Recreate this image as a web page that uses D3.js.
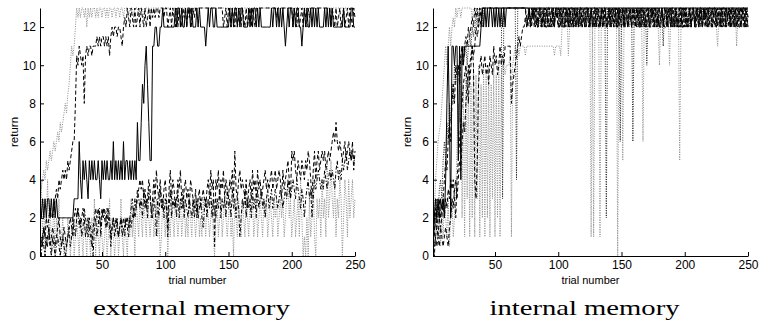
<!DOCTYPE html>
<html><head><meta charset="utf-8">
<script src="https://cdn.jsdelivr.net/npm/d3@7"></script>
<style>body{margin:0;background:#fff}svg{display:block}</style>
</head><body><svg id="c" width="759" height="327"></svg>
<script>
const yTicks=[0,2,4,6,8,10,12];
const xTicks=[50,100,150,200,250];
const titles=["external memory","internal memory"];

const extSolid=[
3,2,3,2,3,2,3,3,2,3,
2,3,2,3,2,2,2,2,2,2,
2,2,2,2,2,2,2,3,3,3,
3,6,4,3,5,4,5,4,3,5,
4,5,4,5,4,4,5,4,3,5,
4,5,4,5,4,4,5,4,6,4,
5,4,5,4,5,4,6,4,5,5,
4,5,4,5,4,5,4,7,5,5,
7,9,8,10,11,9,7,5,5,11,
11,12,12,11,11,12,12,13,12,12,
12,12,12,12,12,12,12,13,12,13,
13,12,13,12,12,13,12,13,13,12,
13,12,12,12,13,12,13,12,12,12,
12,11,12,13,12,13,13,12,12,13,
12,12,12,12,12,12,12,12,12,12,
13,12,13,12,13,13,12,13,12,13,
13,12,12,12,12,13,12,13,12,13,
13,12,13,12,13,12,12,12,12,12,
12,12,12,13,12,13,13,12,13,12,
13,12,13,12,11,12,13,12,13,13,
12,13,12,13,13,12,12,11,12,13,
12,13,12,12,13,12,13,12,13,12,
13,12,12,12,12,13,12,13,12,13,
12,13,12,12,12,12,12,12,12,12,
13,12,12,12,12,12,13,13,12,12];

const extDash1=[
1,0.5,1,1.5,1,2,1.5,2,2.5,2,
2,2.5,3,3.5,3,4,3.5,4,4.5,4,
4.5,4,5,4.5,5,5.5,6,6,8,10.5,
10,11,10.5,10,10.5,8,10.5,11,10.5,11,
11,10.5,11,11,11,11.5,11,11.5,11,11.5,
11.5,11,11.5,11,11.5,10.5,11.5,12,11.5,12,
12,11.5,12,12,11.5,11,12,12.5,12,13,
12.5,12,13,12.5,12,13,12,12.5,13,12,
13,12.5,12,13,12,12.5,13,12,13,12.5,
13,12.5,13,13,12.5,13,13,13,12.5,13,
13,12,12.5,13,12,13,12.5,12,13,12,
13,12.5,12,13,12.5,13,12,13,12.5,13,
12,13,12.5,13,13,13,13,13,13,13,
13,13,13,13,13,13,13,13,13,13,
13,13,13,13,13,12,12.5,13,12,13,
12.5,12,13,12.5,12,13,12,12.5,13,12,
13,12.5,12,13,12,12.5,13,12,13,12.5,
12,13,13,13,13,13,13,13,13,13,
13,13,13,13,13,13,13,12.5,13,13,
13,13,13,13,13,13,13,13,13,13,
12,13,12.5,12,13,12,12.5,13,12,13,
12.5,12,13,12.5,13,13,13,13,13,13,
13,13,13,13,13,13,13,13,13,13,
12,13,12.5,12,13,12,12.5,13,12,12.5,
13,12,12.5,13,12,13,12.5,12,13,12.5];

const extDotA=[
4,3.5,4,4.5,4,5,4.5,5,5.5,5,
5.5,6,5.5,6,6.5,6,7,6.5,7,7.5,
8,7.5,8.5,9,10,11,10.5,11,12,13,
12.5,13,12.5,13,13,12.5,13,12,13,12.5,
13,12.5,13,13,12.5,13,12.5,13,13,12.5,
13,13,12.5,13,12.5,13,13,12.5,13,13,
12.5,13,13,12.5,13,13,12.5,13,13,13,
12.5,13,13,13,12.5,13,13,13,12.5,13,
13,13,12.5,13,13,13,13,12.5,13,13,
13,13,13,13,13,13,13,13,13,13,
13,13,13,13,13,13,13,13,13,13,
13,13,13,13,13,13,13,13,13,13,
13,13,13,13,13,13,13,13,13,13,
13,13,13,13,13,13,13,13,13,13,
13,13,13,13,13,13,13,13,13,13,
13,13,13,13,13,13,13,13,13,13,
13,13,13,13,13,13,13,13,13,13,
13,13,13,13,13,13,13,13,13,13,
13,13,13,13,13,13,13,13,13,13,
13,13,13,13,13,13,13,13,13,13,
13,13,13,13,13,13,13,13,13,13,
13,13,13,13,13,13,13,13,13,13,
13,13,13,13,13,13,13,13,13,13,
13,13,13,13,13,13,13,13,13,13,
13,13,13,13,13,13,13,13,13,13];

const extDash2=[
0.5,1,0.5,1.5,1,0.5,1,1.5,0.5,1,
1.5,1,0.5,1,1.5,2,1,0.5,1,1.5,
1,0.5,1,1.5,2,1.5,1,2,2.5,2,
2.5,2,1.5,2,2.5,2,1,1.5,2,1.5,
1,0.5,1.5,2,2.5,2,2.5,2,1.5,2.5,
2,2.5,2,1.5,2.5,2,1,1.5,2,1.5,
2,1.5,1,1.5,2,1.5,2,1.5,2,2,
1.5,2,1.5,2,2.5,2,2.5,3,3.5,4,
3.5,4,3,3.5,2.5,3,4,3.5,2,3,
4,3,4.5,3.5,3,4,3,2.5,3.5,4,
3,1.5,3.5,4.5,3,4,3.5,2.5,3,4,
3.5,4.5,3,2.5,3.5,4,3,3.5,2.5,4,
3.5,3,2.5,3.5,2,3,3.5,2.5,3,3.5,
3,2.5,3.5,4,3,4.5,3.5,4,0.5,4,
3.5,4.5,3,4,3.5,4.5,3,4,3.5,3,
4,3.5,4.5,3,5.5,3.5,3,4,4.5,3.5,
4,3.5,3,4,2.5,3.5,4,3,4.5,3.5,
4,3,4.5,3.5,4,3,3.5,4,4.5,3.5,
4,3.5,4,4.5,3.5,4,4.5,3.5,4,4.5,
4,3,4.5,3.5,4,4.5,5,4,3,5.5,
5,5.5,4.5,4,5,4.5,4,5,4.5,4,
5,4.5,5.5,5,4,3,4.5,5.5,4,5,
5.5,4.5,5,5.5,5,5.5,4.5,5,5.5,5,
5.5,6,6.5,6,7,6,5.5,6,5.5,5,
5.5,6,5,5.5,6,5.5,5,6,4.5,5.5];

const extDash3=[
0.5,0,1,0.5,0,1,0.5,1.5,0.5,0,
1,0.5,0,0.5,1,0.5,0,0.5,1,0.5,
0,0.5,1,1.5,0.5,1,2,1.5,1,2,
2.5,1.5,2,1,1.5,2.5,2,1.5,1,2,
1.5,1,0,1.5,2,1,1.5,2.5,1,2,
2.5,2,1.5,2.5,2,1.5,0.5,1.5,2,1,
1.5,2,1,1.5,2,1,1.5,1,2,1.5,
1,2,2.5,3,2,3,2.5,3.5,3,2.5,
3,2,3.5,2.5,3,2,3.5,3,2.5,2,
3,2.5,1,3,2,3.5,2.5,3,2,3,
2.5,1,2.5,3.5,2,3,2.5,3,2,3.5,
2,3,2.5,3.5,2,3,2.5,2,3,2.5,
2,3,2,2.5,3,2,2.5,3,2,1.5,
2.5,3,2,3,2.5,3.5,2,3,2.5,2,
3,2.5,3.5,2,3,2.5,3,2,3.5,2.5,
3,2,3.5,2.5,3,2,3,2.5,1,2,
3,2.5,3.5,2,3,2.5,3,2,3.5,2.5,
3,2,3.5,2.5,3,3.5,2.5,3,2,3,
3.5,2.5,3,3.5,2.5,3,3.5,3,2.5,3,
3.5,3,2.5,3,3.5,3,4,3.5,3,3.5,
4,3.5,3,4,3.5,3,2.5,3.5,3,2,
3,3.5,4,3,3.5,2,3,4,3.5,4,
4.5,4,3.5,4,3.5,4.5,4,3.5,4,4.5,
4,4.5,4,3.5,4.5,5,4,4.5,4,5,
4.5,5,5.5,4.5,5,5.5,5,5.5,5,5];

const extDotB=[
2,4,1,3,0,2,4,1,3,0,
1,3,0,2,1,3,0,1,2,0,
1,0,2,1,0,1,2,0,1,2,
1,0,2,1,0,2,1,0,2,1,
0,2,1,3,0,2,1,0,2,1,
0,1,2,0,1,3,0,2,1,0,
1,2,0,1,3,1,0,2,1,0,
2,1,3,1,2,0,3,2,1,3,
2,1,3,2,1,3,2,1,2,3,
1,2,3,1,2,0,1,3,2,1,
3,0,2,1,3,2,1,3,2,1,
2,3,1,2,3,1,2,1,3,2,
1,3,2,1,2,3,1,2,1,3,
2,1,3,2,1,2,3,1,0,2,
3,1,2,3,1,2,3,2,1,2,
3,1,2,0,3,2,1,3,2,1,
3,2,1,3,2,1,3,2,3,1,
2,3,1,2,3,2,1,3,2,3,
1,2,3,2,1,3,2,3,1,2,
3,2,3,1,2,3,4,2,3,1,
2,3,1,2,3,1,4,2,0,1,
0,2,0,3,1,2,4,1,0,3,
2,3,1,4,2,3,1,5,2,3,
5,3,2,4,1,3,2,4,3,0,
2,4,3,1,4,2,3,4,2,3];

const intSolid=[
0,2,3,2,3,2,3,2.5,3,2,
4,8,11,7,2,11,11,10,11,11,
5,11,4,11,10,11,11,11,11,11,
11,11,11,11,11,11,11,11,12,13,
12,13,12,13,12,13,13,12,13,12,
13,12,13,12,13,12,13,12,13,13,
13,13,13,13,13,13,13,13,13,13,
13,13,13,13,13,13,13,13,13,13,
13,13,13,13,13,13,13,13,13,13,
13,13,13,13,13,13,13,13,13,13,
13,13,13,13,13,13,13,13,13,13,
13,13,13,13,13,13,13,13,13,13,
13,13,13,13,13,13,13,13,13,13,
13,13,13,13,13,13,13,13,13,13,
13,13,13,13,13,13,13,13,13,13,
13,13,13,13,13,13,13,13,13,13,
13,13,13,13,13,13,13,13,13,13,
13,13,13,13,13,13,13,13,13,13,
13,13,13,13,13,13,13,13,13,13,
13,13,13,13,13,13,13,13,13,13,
13,13,13,13,13,13,13,13,13,13,
13,13,13,13,13,13,13,13,13,13,
13,13,13,13,13,13,13,13,13,13,
13,13,13,13,13,13,13,13,13,13,
13,13,13,13,13,13,13,13,13,13];

const intDash1=[
1,0.5,1,1.5,1,2,1.5,2,3,4,
5,4.5,6,7,6,8,9,8,10,9.5,
10,9,10.5,11,10,11,11.5,11,12,11.5,
12,12.5,12,13,12.5,13,12,13,12.5,13,
13,13,13,13,13,13,13,13,13,13,
13,13,13,13,13,13,13,13,13,13,
13,13,13,13,13,13,13,13,13,13,
13,13,13,13,12.5,12,13,12.5,12,13,
12,12.5,13,12,12.5,13,12,12.5,12,13,
12.5,12,13,12,12.5,13,12,13,12.5,12,
13,12,12.5,13,12,12.5,13,12,13,12.5,
12,13,12.5,12,13,12,12.5,13,12,12.5,
13,12,12.5,13,12,13,12.5,12,13,12,
12.5,13,12,12.5,13,12,13,12.5,12,13,
12,12.5,13,12,12.5,13,12,13,12.5,12,
13,12,12.5,13,12,12.5,13,12,13,12.5,
12,13,12.5,12,13,12,12.5,13,12,12.5,
13,12,12.5,13,12,13,12.5,12,13,12,
12.5,13,12,12.5,13,12,13,12.5,12,13,
12,12.5,13,12,12.5,13,12,13,12.5,12,
13,12,12.5,13,12,12.5,13,12,13,12.5,
12,13,12.5,12,13,12,12.5,13,12,12.5,
13,12,12.5,13,12,13,12.5,12,13,12,
12.5,13,12,12.5,13,12,13,12.5,12,13,
12,12.5,13,12,12.5,13,12,13,12.5,12];

const intDash2=[
2,1,2.5,1.5,2,3,2,2.5,3,2,
3,2.5,3.5,3,4,3.5,4,3,2,4,
5,6,7,8,9,9.5,10,9,8,10,
10.5,11,10,4,3,5,9,10,10.5,9.5,
10,10.5,9.5,10,9,10.5,10,9.5,11,10,
10.5,9.5,10,11,10,10.5,10,11,11,11,
11,11,8,9,9.5,10,10.5,11,11.5,11,
11.5,12,12,12.5,12,12.5,13,12,12.5,13,
12.5,13,12,12,13,12.5,12,13,12,12.5,
13,12,12,12.5,13,12,12.5,13,13,12,
12,13,12.5,12,12,13,12.5,12,13,12,
12.5,12,13,12,12.5,12,13,12,12.5,13,
12,12,13,12.5,12,13,12,12.5,12,13,
12.5,12,12,13,12,12.5,13,12,12,12.5,
13,12,12.5,12,13,12,12,13,12.5,12,
12,13,12,12.5,12,13,12.5,12,12,13,
12.5,12,13,12,12,12.5,13,12,12.5,12,
13,12,12,13,12.5,12,13,12,12.5,12,
12,13,12.5,12,12,13,12,12.5,13,12,
12.5,12,13,12,12.5,12,13,12,12,13,
12,12.5,12,13,12,12.5,13,12,12,13,
12.5,12,13,12,12.5,13,12,12,13,12,
12,13,12.5,12,13,12,12.5,12,13,12.5,
12,12,13,12.5,12,13,12,12.5,13,12,
12.5,13,12,12,13,12.5,12,13,12,12.5];

const intDash3=[
0.5,0,1,0.5,1,0.5,1.5,1,0.5,1,
1.5,1,0.5,1.5,2,3,2.5,3.5,4,3,
4,5,4.5,6,7,6.5,8,9,10,9,
10,11,10.5,11,12,11.5,12,12.5,12,13,
13,13,13,13,13,13,13,13,13,13,
13,13,13,13,13,13,13,13,13,13,
13,13,13,13,13,13,13,13,13,13,
13,13,13,13,12,12.5,13,12,13,12.5,
13,12,12.5,12,13,13,12,12.5,13,12,
12,13,13,12.5,12,13,12,13,12.5,13,
12.5,13,12,13,13,12,12.5,13,12,13,
13,12,13,12.5,13,12,13,13,12,12.5,
12,13,13,12,12.5,13,12,13,13,12,
13,12.5,12,13,12,13,13,12,12.5,13,
12,13,12.5,13,13,12,13,12,13,12.5,
13,12,13,13,12,12.5,13,12,13,13,
12,13,12.5,13,12,13,13,12,12.5,13,
13,12,13,12.5,13,12,13,13,12,13,
12.5,13,12,13,13,12,12.5,13,12,13,
13,12,13,12.5,12,13,13,12,13,12.5,
13,12,12.5,13,12,13,13,12,12.5,13,
12,13,13,12,13,12.5,13,12,13,13,
12.5,12,13,13,12,13,12.5,13,12,13,
13,12,13,12.5,13,12,13,13,12,12.5,
13,12,12.5,13,12,13,13,12,13,12.5];

const intDotA=[
3,2,4,5,6,6.5,7,8,9,10,
11,10,11,12,11,12,12.5,12,13,12.5,
13,13,12.5,13,13,13,13,13,13,13,
13,12.5,13,13,13,12.5,13,13,13,13,
13,13,13,13,13,13,13,13,13,13,
13,13,13,13,13,13,13,13,13,13,
13,13,13,13,13,13,13,13,13,13,
13,13,13,13,13,13,13,13,13,13,
13,13,13,13,13,13,13,13,13,13,
13,13,13,13,13,13,13,13,13,13,
13,13,13,13,13,13,13,13,13,13,
13,13,13,13,13,13,13,13,13,13,
13,13,13,13,13,13,13,13,13,13,
13,13,13,13,13,13,13,13,13,13,
13,13,13,13,13,13,13,13,13,13,
13,13,13,13,13,13,13,13,13,13,
13,13,13,13,13,13,13,13,13,13,
13,13,13,13,13,13,13,13,13,13,
13,13,13,13,13,13,13,13,13,13,
13,13,13,13,13,13,13,13,13,13,
13,13,13,13,13,13,13,13,13,13,
13,13,13,13,13,13,13,13,13,13,
13,13,13,13,13,13,13,13,13,13,
13,13,13,13,13,13,13,13,13,13,
13,13,13,13,13,13,13,13,13,13];

const intDotB=[
1,2,0.5,3,1,2,0.5,2.5,1,3,
2,1,3,0.5,2,3,1,2,3,6,
8,7,10,2,9,1,10,3,10,1,
9,2,10,1,9.5,3,10,1,9,2,
10,1,9.5,2,10,1,9,3,10,1,
9.5,2,10,1,9.5,10,10,9.5,10,10,
10,10.5,1,10,10.5,11,10.5,11,10.5,11,
11,11,11,10.5,11,11,11,11,11,11,
11,11,11,11,11,11,11,11,11,11,
11,11,11,11,11,11,10.5,11,11,11,
11,10.5,12,12.5,12,13,12.5,10.5,12,12.5,
13,12,12.5,13,12,12.5,13,12,12.5,13,
12,12.5,13,12,12.5,1,12,1,12.5,13,
12,12.5,1,12,13,12.5,12,13,12,12.5,
13,12,12.5,13,12,12.5,0,13,12,12.5,
5,12,13,12.5,12,13,12.5,12,13,12,
12.5,13,12,12.5,13,12,6,12.5,13,12,
12.5,13,12,13,12.5,12,13,12.5,12,10,
12.5,13,12,12.5,13,12,12.5,10,13,12,
12.5,13,12,12.5,13,5,12,12.5,13,12,
12.5,12,13,12.5,12,13,12.5,12,13,12.5,
12,13,12.5,12,13,12.5,12,13,12,12.5,
13,12,12.5,13,12,11,12.5,13,12,12.5,
13,12,12.5,13,12,12.5,13,12,12.5,13,
11,12.5,13,12,12.5,13,12,12.5,13,12];

const intDotK=[
1,2,1.5,3,2,3.5,4,3,5,6,
5,7,6,8,7,9,8,10,9,10,
10,9,10.5,10,11,10.5,11,10,11,11.5,
11,12,11.5,12,12.5,12,12.5,13,12.5,12,
13,13,13,13,13,13,13,13,13,13,
13,13,13,13,13,3,13,13,13,13,
13,13,13,13,13,13,4,13,13,13,
13,13,13,13,13,13,12.5,12,13,12.5,
13,12,12.5,13,12.5,12,13,12.5,13,12,
12.5,13,12,12.5,13,12.5,12,13,12.5,13,
12,12.5,13,12,12.5,13,12.5,12,13,12.5,
13,12.5,12,13,12.5,13,12,12.5,13,12.5,
12,13,12.5,13,12,12.5,13,12.5,12,13,
12.5,13,12,12.5,13,12.5,12,2,13,12.5,
13,12,12.5,13,12.5,12,13,12.5,6,13,
12.5,12,13,12.5,13,12,12.5,13,6,12.5,
13,12.5,12,13,12.5,13,12,12.5,13,10,
12.5,13,12,12.5,13,12.5,12,13,12.5,13,
12,12.5,11,13,12.5,12,13,12.5,13,12,
12.5,13,12,12.5,13,12.5,12,13,12.5,13,
12,12.5,13,12,12.5,13,12.5,12,13,12.5,
13,12.5,12,13,12.5,13,12,12.5,13,12.5,
12,13,12.5,13,12,12.5,13,12.5,12,13,
12.5,13,12,12.5,13,12.5,12,13,12.5,13,
12,12.5,13,12,12.5,13,12.5,12,13,12.5];

const styles={
  solid:{c:"#000",d:null,w:1},
  dash:{c:"#000",d:"4,2.5",w:1},
  dashdot:{c:"#000",d:"4,2,1.2,2",w:1},
  gray:{c:"#8c8c8c",d:"1,1.4",w:1},
  kdot:{c:"#222",d:"1,1.4",w:1}
};

const panels=[
  {title:titles[0], left:40, right:355, titleW:197, series:[
    {v:extDotB,s:"gray"},{v:extDotA,s:"gray"},{v:extDash3,s:"dashdot"},
    {v:extDash2,s:"dash"},{v:extDash1,s:"dash"},{v:extSolid,s:"solid"}]},
  {title:titles[1], left:433, right:748, titleW:190, series:[
    {v:intDotB,s:"gray"},{v:intDotA,s:"gray"},{v:intDotK,s:"kdot"},
    {v:intDash3,s:"dash"},{v:intDash2,s:"dash"},{v:intDash1,s:"dash"},{v:intSolid,s:"solid"}]}
];

const svg=d3.select("#c");
const plotTop=8, plotBottom=256;
const sans='"Liberation Sans", Arial, Helvetica, sans-serif';

panels.forEach((p,pi)=>{
  const x=d3.scaleLinear().domain([1,250]).range([p.left,p.right]);
  const y=d3.scaleLinear().domain([0,13]).range([plotBottom,plotTop]);
  const g=svg.append("g");
  const clipId="clip"+pi;
  g.append("clipPath").attr("id",clipId).append("rect")
    .attr("x",p.left).attr("y",plotTop-1).attr("width",p.right-p.left+1).attr("height",plotBottom-plotTop+1);
  const line=d3.line().x((d,i)=>x(i+1)).y(d=>y(d));
  const lg=g.append("g").attr("clip-path",`url(#${clipId})`);
  p.series.forEach(s=>{
    const st=styles[s.s];
    lg.append("path").datum(s.v).attr("d",line)
      .attr("fill","none").attr("stroke",st.c).attr("stroke-width",st.w)
      .attr("stroke-dasharray",st.d).attr("stroke-linejoin","miter").attr("stroke-miterlimit",2);
  });
  const ya=g.append("g").attr("transform",`translate(${p.left},0)`)
    .call(d3.axisLeft(y).tickValues(yTicks).tickSizeInner(-4).tickSizeOuter(0).tickPadding(4));
  const xa=g.append("g").attr("transform",`translate(0,${plotBottom})`)
    .call(d3.axisBottom(x).tickValues(xTicks).tickSizeInner(-4).tickSizeOuter(0).tickPadding(4));
  [ya,xa].forEach(a=>{
    a.attr("font-family",sans).attr("font-size",12);
    a.selectAll("text").attr("fill","#000");
    a.selectAll("line,path").attr("stroke","#000");
  });
  const cx=(p.left+p.right)/2;
  g.append("text").attr("x",cx).attr("y",284).attr("text-anchor","middle")
    .attr("font-family",sans).attr("font-size",11).text("trial number");
  g.append("text").attr("transform",`translate(${p.left-22},132) rotate(-90)`)
    .attr("text-anchor","middle").attr("font-family",sans).attr("font-size",11.5).text("return");
  g.append("text").attr("x",cx-6).attr("y",315).attr("text-anchor","middle")
    .attr("font-family",'"Liberation Serif", "Times New Roman", serif').attr("font-size",21)
    .attr("textLength",p.titleW).attr("lengthAdjust","spacingAndGlyphs").text(p.title);
});
</script></body></html>
